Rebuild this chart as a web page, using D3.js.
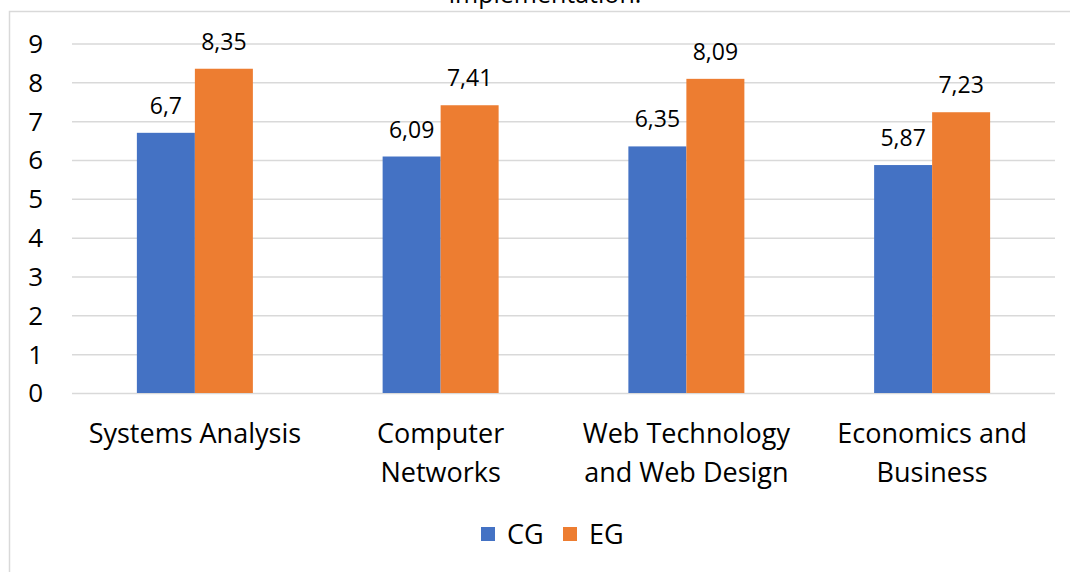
<!DOCTYPE html>
<html>
<head>
<meta charset="utf-8">
<script src="https://cdn.jsdelivr.net/npm/d3@7"></script>
<style>
  body { margin: 0; background: #fff; }
  text { font-family: "Open Sans", Lato, sans-serif; fill: #000; }
</style>
</head>
<body>
<div id="chart"></div>
<script>
const categories = [
  ["Systems Analysis"],
  ["Computer", "Networks"],
  ["Web Technology", "and Web Design"],
  ["Economics and", "Business"],
];
const seriesNames = ["CG", "EG"];
const cgValues = [6.7, 6.09, 6.35, 5.87];
const egValues = [8.35, 7.41, 8.09, 7.23];
const yTicks = [0, 1, 2, 3, 4, 5, 6, 7, 8, 9];
const title = "implementation.";

const COLORS = { CG: "#4472C4", EG: "#ED7D31" };

const width = 1070;
const height = 572;

const svg = d3
  .select("#chart")
  .append("svg")
  .attr("width", width)
  .attr("height", height);

// chart frame (runs off the right/bottom edge like the crop)
svg
  .append("rect")
  .attr("x", 9.5)
  .attr("y", 11.5)
  .attr("width", width + 20)
  .attr("height", height + 20)
  .attr("fill", "#fff")
  .attr("stroke", "#d9d9d9")
  .attr("stroke-width", 1.5);

svg
  .append("text")
  .attr("x", 545)
  .attr("y", 3)
  .attr("text-anchor", "middle")
  .attr("font-size", "25px")
  .text(title);

const data = categories.map((c, i) => ({
  key: i,
  lines: c,
  CG: cgValues[i],
  EG: egValues[i],
}));

// SCALES
const x = d3
  .scaleBand()
  .domain(data.map((d) => d.key))
  .range([72, 1055]);

const xInner = d3
  .scaleBand()
  .domain(seriesNames)
  .range([0, 116]);

const y = d3.scaleLinear().domain([0, 9]).range([393, 43.5]);

// GRID
svg
  .append("g")
  .attr("transform", "translate(72,0)")
  .call(d3.axisLeft(y).tickValues(yTicks).tickSize(-983).tickFormat(""))
  .call((g) => g.select(".domain").remove())
  .call((g) =>
    g.selectAll("line").attr("stroke", "#d9d9d9").attr("stroke-width", 1.5)
  );

// Y labels
svg
  .append("g")
  .selectAll("text")
  .data(yTicks)
  .enter()
  .append("text")
  .attr("x", 43)
  .attr("y", (d) => y(d))
  .attr("dy", "0.36em")
  .attr("text-anchor", "end")
  .attr("font-size", "26px")
  .text((d) => d);

// BARS
const groups = svg
  .append("g")
  .selectAll("g")
  .data(data)
  .enter()
  .append("g")
  .attr("transform", (d) => `translate(${x(d.key) + x.bandwidth() / 2 - 58},0)`);

groups
  .selectAll("rect")
  .data((d) => seriesNames.map((s) => ({ s, v: d[s] })))
  .enter()
  .append("rect")
  .attr("x", (d) => xInner(d.s))
  .attr("width", xInner.bandwidth())
  .attr("y", (d) => y(d.v))
  .attr("height", (d) => y(0) - y(d.v))
  .attr("fill", (d) => COLORS[d.s]);

groups
  .selectAll(".lbl")
  .data((d) => seriesNames.map((s) => ({ s, v: d[s] })))
  .enter()
  .append("text")
  .attr("class", "lbl")
  .attr("x", (d) => xInner(d.s) + xInner.bandwidth() / 2)
  .attr("y", (d) => y(d.v) - 19)
  .attr("text-anchor", "middle")
  .attr("font-size", "23px")
  .text((d) => String(d.v).replace(".", ","));

// CATEGORY LABELS
svg
  .append("g")
  .selectAll("text")
  .data(data)
  .enter()
  .append("text")
  .attr("x", (d) => x(d.key) + x.bandwidth() / 2)
  .attr("y", 443)
  .attr("text-anchor", "middle")
  .attr("font-size", "27px")
  .each(function (d) {
    d3.select(this)
      .selectAll("tspan")
      .data(d.lines)
      .enter()
      .append("tspan")
      .attr("x", x(d.key) + x.bandwidth() / 2)
      .attr("dy", (l, i) => (i === 0 ? 0 : 39))
      .text((l) => l);
  });

// LEGEND
const legend = svg.append("g").attr("transform", "translate(481, 527)");
const legendX = [0, 82];
legend
  .selectAll("g")
  .data(seriesNames)
  .enter()
  .append("g")
  .attr("transform", (d, i) => `translate(${legendX[i]},0)`)
  .each(function (d) {
    const g = d3.select(this);
    g.append("rect").attr("width", 14).attr("height", 14).attr("fill", COLORS[d]);
    g.append("text")
      .attr("x", 26)
      .attr("y", 7)
      .attr("dy", "0.36em")
      .attr("font-size", "27px")
      .text(d);
  });
</script>
</body>
</html>
